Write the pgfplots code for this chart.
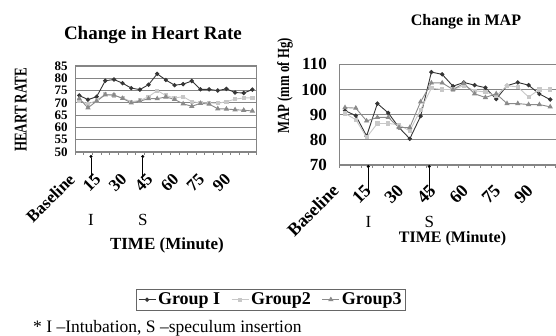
\documentclass[border=0pt]{standalone}
\usepackage{fontspec}
\setmainfont{Liberation Serif}
\usepackage{graphicx}
\usepackage{pgfplots}
\pgfplotsset{compat=1.18}
\usetikzlibrary{arrows.meta}
\definecolor{gA}{HTML}{353535}
\definecolor{gB}{HTML}{C8C8C8}
\definecolor{gC}{HTML}{8A8A8A}
\definecolor{gridc}{HTML}{858585}

\pgfplotstableread{
x hrA hrB hrC
0 73 71 71.7
1 71.3 69.5 68
2 72.5 71 70.7
3 79 73.5 73.3
4 79.5 73 73.2
5 78 72 71.8
6 76 70.5 70
7 75.4 71 70.7
8 77.4 72.5 71.7
9 81.8 75 71.7
10 79.3 73 72.4
11 77.2 72 71.4
12 77.6 72.5 69.6
13 78.9 70.5 68.6
14 75.5 70 69.8
15 75.5 70 69.5
16 75 69.8 67.6
17 75.7 70.5 67.5
18 74.2 71.5 67.2
19 74 72 67
20 75.4 72 66.7
}\hrdata

\pgfplotstableread{
x mapA mapB mapC
0 91.6 90.5 92.8
1 89.6 88 92.6
2 81.5 81 87.5
3 94.4 86.5 88.9
4 90.7 86.5 88.9
5 84.9 86 84.9
6 80.4 83.5 84.9
7 89.4 92 95.1
8 106.9 100.5 102.6
9 106 100 102.6
10 101.3 100 100
11 102.8 101.5 102.4
12 101.7 99.5 98.3
13 100.7 99 96.8
14 96.2 97.5 98.3
15 101.5 101.5 94.4
16 102.8 101 94.4
17 101.7 97 94
18 98.2 100 94
19 96 100 93.1
}\mapdata

\pgfplotsset{
  g1/.style={color=gA, mark=*, mark size=1.7pt, line width=0.9pt},
  g2/.style={color=gB, mark=square*, mark size=1.6pt, line width=0.9pt},
  g3/.style={color=gC, mark=triangle*, mark size=2.2pt, line width=0.9pt},
  base/.style={
    scale only axis,
    clip=false,
    xmin=-0.5, xmax=20.5,
    xtick={0,3,...,18},
    xticklabels={Baseline,15,30,45,60,75,90},
    major x tick style={draw=none},
    minor xtick={-0.5,0.5,...,20.5},
    minor x tick style={gridc, line width=0.6pt},
    minor tick length=3pt,
    tick align=outside,
    xtick pos=left,
    ytick pos=left,
    ymajorgrids,
    major grid style={gridc, line width=1pt},
    ytick style={draw=none},
    axis line style={gridc, line width=0.9pt},
    /pgf/number format/assume math mode=true,
  },
}

\begin{document}
\begin{tikzpicture}
% ---------------- Heart rate ----------------
\begin{axis}[base,
  at={(75pt,184pt)}, anchor=south west,
  width=181.7pt, height=86pt,
  ymin=50, ymax=85, ytick={50,55,...,85},
  yticklabel style={font=\fontsize{13}{13}\selectfont\bfseries, inner sep=1pt, xshift=-2pt},
  xticklabel style={xshift=-5pt, yshift=-18pt, rotate=45, anchor=east, font=\fontsize{17}{17}\selectfont\bfseries},
  title={Change in Heart Rate},
  title style={at={(0.429,1.395)}, anchor=center, yshift=-9pt, font=\fontsize{19}{19}\selectfont\bfseries},
  ylabel={\scalebox{0.72}[1]{HEART RATE}},
  ylabel style={at={(-0.299,0.488)}, anchor=center, font=\fontsize{18}{18}\selectfont\bfseries},
  xlabel={TIME (Minute)},
  xlabel style={at={(0.506,-1.081)}, anchor=center, font=\fontsize{17}{17}\selectfont\bfseries},
  legend columns=3,
  legend style={at={(1.0776,-1.717)}, anchor=center, draw=black!60, line width=0.8pt,
    font=\fontsize{18}{18}\selectfont\bfseries, inner sep=2pt,
    /tikz/every even column/.append style={column sep=9pt}},
]
\addplot[g1] table[x=x, y=hrA] {\hrdata};
\addlegendentry{Group I}
\addplot[g2] table[x=x, y=hrB] {\hrdata};
\addlegendentry{Group2}
\addplot[g3] table[x=x, y=hrC] {\hrdata};
\addlegendentry{Group3}
\draw[black, line width=0.6pt, {Circle[length=3pt]}-] ([yshift=-3pt]axis cs:1.35,50) -- ([yshift=-28pt]axis cs:1.35,50);
\draw[black, line width=0.6pt, {Circle[length=3pt]}-] ([yshift=-3pt]axis cs:7.33,50) -- ([yshift=-28pt]axis cs:7.33,50);
\node[font=\fontsize{17}{17}\selectfont] at ([yshift=-68pt]axis cs:1.35,50) {I};
\node[font=\fontsize{17}{17}\selectfont] at ([yshift=-68pt]axis cs:7.33,50) {S};
\end{axis}
% ---------------- MAP ----------------
\begin{axis}[base,
  at={(339.6pt,171pt)}, anchor=south west,
  width=226.8pt, height=100.7pt,
  axis lines*=left,
  ymin=70, ymax=110, ytick={70,80,...,110},
  yticklabel style={font=\fontsize{17}{17}\selectfont\bfseries, xshift=-5pt},
  xticklabel style={xshift=-7pt, yshift=-16pt, rotate=45, anchor=east, font=\fontsize{18}{18}\selectfont\bfseries},
  title={Change in MAP},
  title style={at={(0.557,1.44)}, anchor=center, yshift=-8pt, font=\fontsize{16}{16}\selectfont\bfseries},
  ylabel={\scalebox{0.75}[1]{MAP (mm of Hg)}},
  ylabel style={at={(-0.241,0.785)}, anchor=center, font=\fontsize{17}{17}\selectfont\bfseries},
  xlabel={TIME (Minute)},
  xlabel style={at={(0.498,-0.735)}, anchor=center, font=\fontsize{16}{16}\selectfont\bfseries},
]
\addplot[g1] table[x=x, y=mapA] {\mapdata};
\addplot[g2] table[x=x, y=mapB] {\mapdata};
\addplot[g3] table[x=x, y=mapC] {\mapdata};
\draw[black, line width=0.6pt, {Circle[length=3pt]}-] (axis cs:2.16,70) -- ([yshift=-30pt]axis cs:2.16,70);
\draw[black, line width=0.6pt, {Circle[length=3pt]}-] (axis cs:7.8,70) -- ([yshift=-30pt]axis cs:7.8,70);
\node[font=\fontsize{17}{17}\selectfont] at ([yshift=-57pt]axis cs:2.16,70) {I};
\node[font=\fontsize{17}{17}\selectfont] at ([yshift=-57pt]axis cs:7.8,70) {S};
\end{axis}
\node[anchor=base west, font=\fontsize{17.5}{17.5}\selectfont, inner sep=0pt] at (33pt,3.5pt) {* I –Intubation, S –speculum insertion};
\pgfresetboundingbox
\useasboundingbox (0pt,0pt) rectangle (556pt,336pt);
\end{tikzpicture}
\end{document}
